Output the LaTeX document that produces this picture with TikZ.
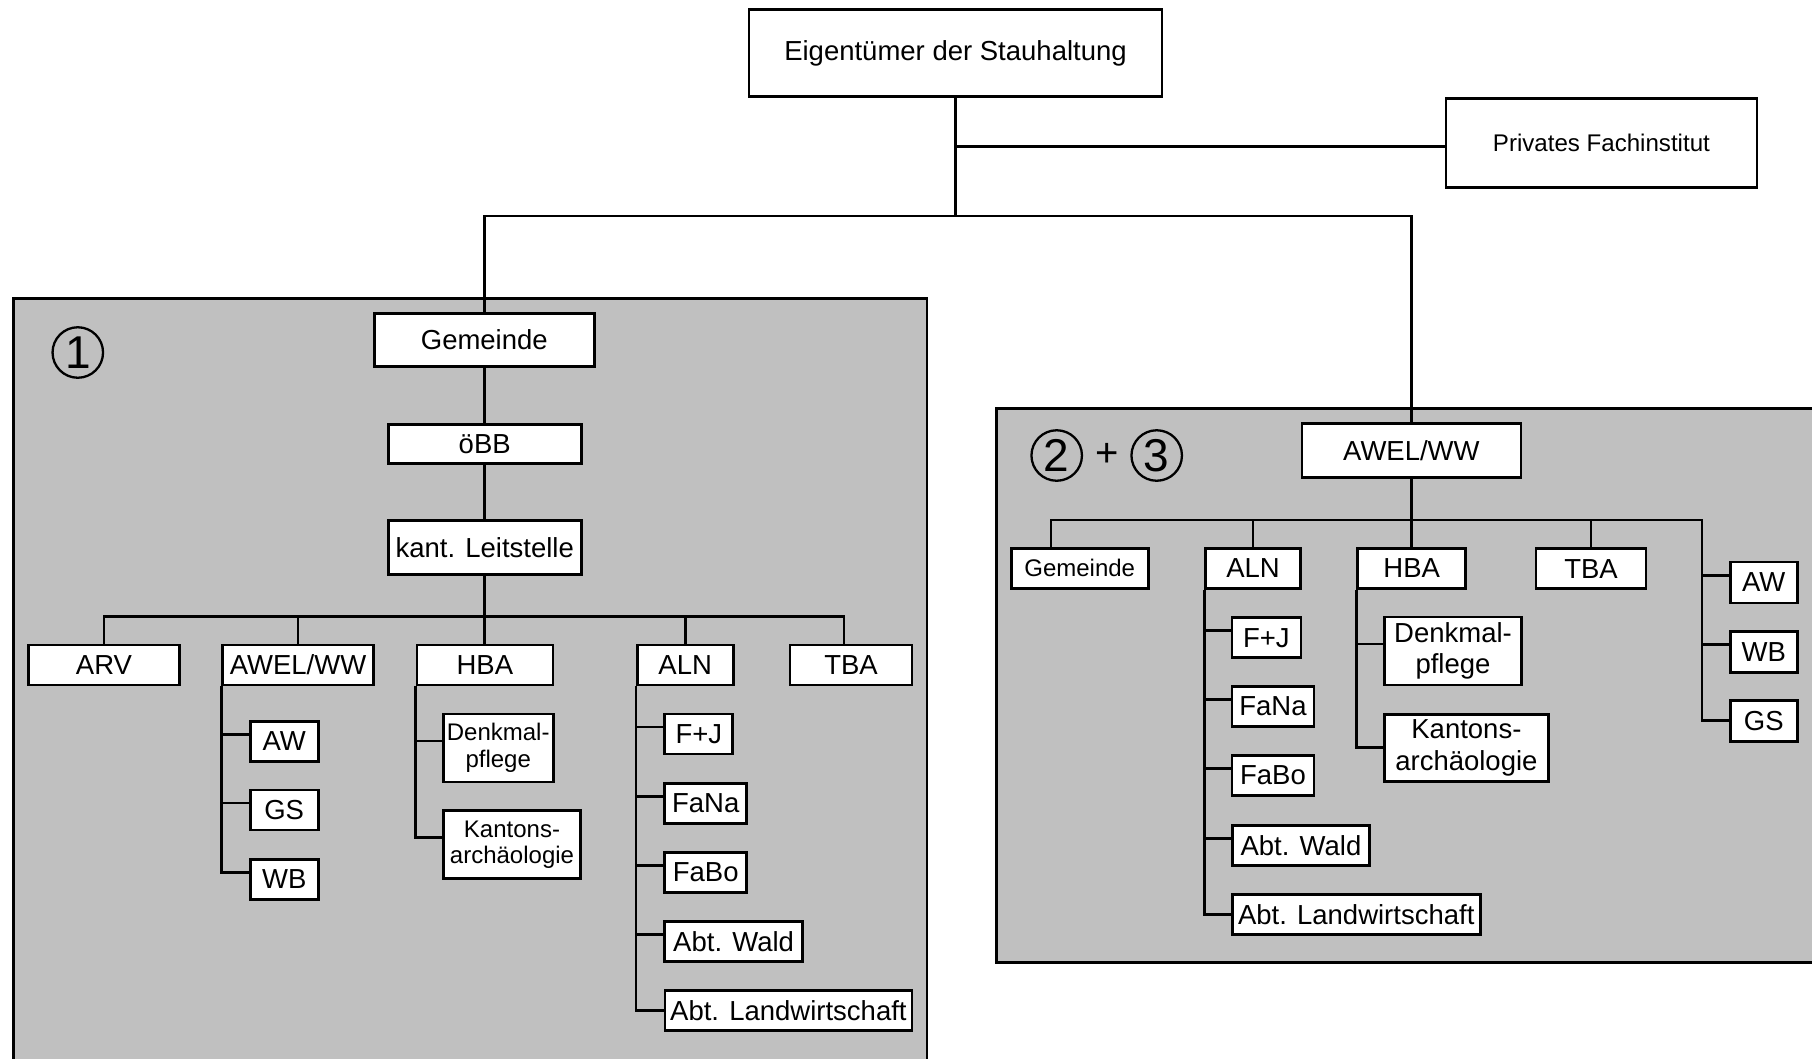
\documentclass[tikz,border=0pt]{standalone}
\usepackage{fontspec}
\setmainfont{Liberation Sans}
\definecolor{panelgray}{RGB}{192,192,192}
\newcommand\fbig{\fontsize{27.5}{31.5}\selectfont}
\newcommand\fsmall{\fontsize{24}{26.5}\selectfont}
\newcommand\fpriv{\fontsize{24.1}{27}\selectfont}
\begin{document}
\begin{tikzpicture}[x=1pt,y=-1pt,line width=2.7pt,line join=miter,
  box/.style={draw,fill=white,line width=2.7pt,inner sep=0pt,align=center,font=\fbig},
  sbox/.style={box,font=\fsmall},
  panel/.style={draw,fill=panelgray,line width=2.7pt},
  num/.style={circle,draw,line width=2.3pt,minimum size=50.5pt,inner sep=0pt,font=\fontsize{46}{46}\selectfont},
  conn/.style={line width=2.7pt}]
\useasboundingbox (0,0) rectangle (1812,1058);
\clip (0,0) rectangle (1812,1058);
\fill[white] (0,0) rectangle (1812,1058);

% panels
\draw[panel] (13.3,298.3) rectangle (927,1080);
\draw[panel] (996.5,408.3) rectangle (1840,962.2);

% top
\node[box,minimum width=413pt,minimum height=87pt] (eig) at (955.5,53) {Eigentümer der Stauhaltung};
\node[box,font=\fpriv,minimum width=311pt,minimum height=89pt] (priv) at (1601.4,142.8) {Privates Fachinstitut};

% left panel
\node[num] (c1) at (77.8,352.5) {1};
\node[box,minimum width=220pt,minimum height=53pt] (g1) at (484.3,339.8) {Gemeinde};
\node[box,minimum width=193pt,minimum height=39pt] (obb) at (484.7,443.7) {öBB};
\node[box,minimum width=193pt,minimum height=54pt] (kant) at (484.7,547.2) {kant. Leitstelle};
\node[box,minimum width=151pt,minimum height=40pt] (arv) at (104,665) {ARV};
\node[box,minimum width=151pt,minimum height=40pt] (awel1) at (298,665) {AWEL/WW};
\node[box,minimum width=136pt,minimum height=40pt] (hba1) at (484.9,665) {HBA};
\node[box,minimum width=96pt,minimum height=40pt] (aln1) at (685.2,665) {ALN};
\node[box,minimum width=122pt,minimum height=40pt] (tba1) at (851,665) {TBA};

\node[box,minimum width=68pt,minimum height=40pt] (aw1) at (284.2,741.2) {AW};
\node[box,minimum width=68pt,minimum height=40pt] (gs1) at (284.2,810) {GS};
\node[box,minimum width=68pt,minimum height=40pt] (wb1) at (284.2,879.5) {WB};

\node[sbox,minimum width=110pt,minimum height=68pt] (dk1) at (498.2,747.9) {Denkmal-\\pflege};
\node[sbox,minimum width=137pt,minimum height=68pt] (ka1) at (512,844.7) {Kantons-\\archäologie};

\node[box,minimum width=68pt,minimum height=40pt] (fj1) at (698.8,733.9) {F+J};
\node[box,minimum width=82pt,minimum height=40pt] (fana1) at (705.7,803.2) {FaNa};
\node[box,minimum width=82pt,minimum height=40pt] (fabo1) at (705.7,872.2) {FaBo};
\node[box,minimum width=138pt,minimum height=40pt] (wald1) at (733.6,941.5) {Abt. Wald};
\node[box,minimum width=247pt,minimum height=40pt] (landw1) at (788.4,1010.5) {Abt. Landwirtschaft};

% right panel
\node[num] (c2) at (1056.7,455.5) {2};
\node[font=\fontsize{40}{40}\selectfont,inner sep=0pt] (plus) at (1106.7,455) {+};
\node[num] (c3) at (1156.7,455.5) {3};
\node[box,minimum width=219pt,minimum height=54pt] (awel2) at (1411.4,450.7) {AWEL/WW};
\node[sbox,minimum width=137pt,minimum height=40pt] (gem2) at (1079.7,568.3) {Gemeinde};
\node[box,minimum width=95pt,minimum height=40pt] (aln2) at (1253,568.3) {ALN};
\node[box,minimum width=108pt,minimum height=40pt] (hba2) at (1411.7,568.3) {HBA};
\node[box,minimum width=110pt,minimum height=40pt] (tba2) at (1591,568.7) {TBA};

\node[box,minimum width=67pt,minimum height=41pt] (aw2) at (1763.7,582.4) {AW};
\node[box,minimum width=67pt,minimum height=41pt] (wb2) at (1763.7,651.7) {WB};
\node[box,minimum width=67pt,minimum height=41pt] (gs2) at (1763.7,720.8) {GS};

\node[box,minimum width=69pt,minimum height=40pt] (fj2) at (1266.4,637.7) {F+J};
\node[box,minimum width=82pt,minimum height=40pt] (fana2) at (1273,706.5) {FaNa};
\node[box,minimum width=82pt,minimum height=40pt] (fabo2) at (1273,775.5) {FaBo};
\node[box,minimum width=137pt,minimum height=40pt] (wald2) at (1300.9,845.3) {Abt. Wald};
\node[box,minimum width=248pt,minimum height=40pt] (landw2) at (1356.2,914.7) {Abt. Landwirtschaft};

\node[box,minimum width=137pt,minimum height=68pt] (dk2) at (1453,651) {Denkmal-\\pflege};
\node[box,minimum width=164pt,minimum height=67pt] (ka2) at (1466.4,747.8) {Kantons-\\archäologie};

% bus coordinates
\coordinate (tb) at (955.5,216);
\coordinate (b1) at (484.7,616.7);
\coordinate (tbadrop) at (844,616.7);
\coordinate (b2) at (1411.7,520);
\coordinate (gdrop) at (1051,520);
\coordinate (rs) at (1702,520);

% connectors top
\draw[conn] (eig.south) -- (tb);
\draw[conn] ([yshift=-4pt]priv.west -| eig.south) -- ([yshift=-4pt]priv.west);
\draw[conn] (g1.north) -- (g1.north |- tb) -- (awel2.north |- tb) -- (awel2.north);

% left tree
\draw[conn] (g1.south) -- (g1.south |- obb.north);
\draw[conn] (obb.south) -- (obb.south |- kant.north);
\draw[conn] (kant.south) -- (kant.south |- hba1.north);
\draw[conn] (arv.north) -- (arv.north |- b1) -- (tbadrop) -- (tbadrop |- tba1.north);
\draw[conn] (awel1.north |- b1) -- (awel1.north);
\draw[conn] (aln1.north |- b1) -- (aln1.north);

\draw[conn] (awel1.south west) -- ([yshift=7pt]wb1.west -| awel1.south west) -- ([yshift=7pt]wb1.west);
\foreach \n in {aw1,gs1}
  \draw[conn] ([yshift=7pt]\n.west -| awel1.south west) -- ([yshift=7pt]\n.west);

\draw[conn] (hba1.south west) -- ([yshift=7pt]ka1.west -| hba1.south west) -- ([yshift=7pt]ka1.west);
\draw[conn] ([yshift=7pt]dk1.west -| hba1.south west) -- ([yshift=7pt]dk1.west);

\draw[conn] (aln1.south west) -- (landw1.west -| aln1.south west) -- (landw1.west);
\foreach \n in {fj1,fana1,fabo1,wald1}
  \draw[conn] ([yshift=7pt]\n.west -| aln1.south west) -- ([yshift=7pt]\n.west);

% right tree
\draw[conn] (awel2.south) -- (awel2.south |- hba2.north);
\draw[conn] (gdrop |- gem2.north) -- (gdrop) -- (rs) -- (rs |- gs2.west) -- (gs2.west);
\draw[conn] (aln2.north |- b2) -- (aln2.north);
\draw[conn] (tba2.north |- b2) -- (tba2.north);
\foreach \n in {aw2,wb2}
  \draw[conn] ([yshift=7pt]\n.west -| rs) -- ([yshift=7pt]\n.west);

\draw[conn] (aln2.south west) -- (landw2.west -| aln2.south west) -- (landw2.west);
\foreach \n in {fj2,fana2,fabo2,wald2}
  \draw[conn] ([yshift=7pt]\n.west -| aln2.south west) -- ([yshift=7pt]\n.west);

\draw[conn] (hba2.south west) -- (ka2.west -| hba2.south west) -- (ka2.west);
\draw[conn] ([yshift=7pt]dk2.west -| hba2.south west) -- ([yshift=7pt]dk2.west);
\end{tikzpicture}
\end{document}
